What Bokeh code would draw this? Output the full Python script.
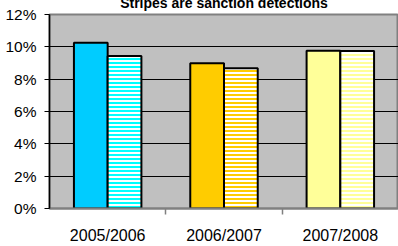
from bokeh.plotting import figure
from bokeh.models import (ColumnDataSource, FixedTicker, NumeralTickFormatter,
                          LinearAxis, Range1d, Title)
from bokeh.embed import file_html
from bokeh.resources import INLINE

categories = ["2005/2006", "2006/2007", "2007/2008"]
all_values = [0.1026, 0.0898, 0.0976]
sanction_values = [0.0943, 0.0867, 0.0975]
solid_colors = ["#00CCFF", "#FFCC00", "#FFFF99"]
stripe_colors = ["#00FFFF", "#FFCC00", "#FFFF99"]
y_ticks = [0, 0.02, 0.04, 0.06, 0.08, 0.10, 0.12]
title_text = "Stripes are sanction detections"

OFF = 0.145
BW = 0.29
centers = [i + 0.5 for i in range(len(categories))]
bounds = list(range(1, len(categories)))
src = ColumnDataSource(dict(xa=[c - OFF for c in centers], xs=[c + OFF for c in centers],
                            a=all_values, s=sanction_values,
                            c1=solid_colors, c2=stripe_colors))

FONT = "Liberation Sans"

p = figure(x_range=Range1d(0, len(categories)), y_range=Range1d(0, 0.12),
           width=398, height=258, output_backend="svg", toolbar_location=None,
           x_axis_location=None, y_axis_location=None,
           min_border_left=49, min_border_right=0, min_border_top=26, min_border_bottom=36,
           background_fill_color="#C0C0C0", border_fill_color="white",
           outline_line_color="#808080", outline_line_width=2,
           margin=(-12, 0, 0, 0))

p.add_layout(Title(text=title_text, align="center", standoff=7,
                   text_font=FONT, text_font_size="14px", text_font_style="bold",
                   text_color="black"), "above")

# y axis
yax = LinearAxis(ticker=FixedTicker(ticks=y_ticks), formatter=NumeralTickFormatter(format="0%"),
                 axis_line_color="black", axis_line_width=1.5,
                 major_tick_line_color="black", major_tick_out=5, major_tick_in=0,
                 minor_tick_line_color=None,
                 major_label_text_font=FONT, major_label_text_font_size="15.5px",
                 major_label_text_color="black", major_label_standoff=8)
p.add_layout(yax, "left")

cax = LinearAxis(ticker=FixedTicker(ticks=centers, minor_ticks=bounds),
                 major_label_overrides={c: lab for c, lab in zip(centers, categories)},
                 axis_line_color="#808080", axis_line_width=2,
                 major_tick_line_color=None, major_tick_out=0, major_tick_in=0,
                 minor_tick_line_color="#808080", minor_tick_out=6, minor_tick_in=0,
                 minor_tick_line_width=1.5,
                 major_label_text_font=FONT, major_label_text_font_size="16px",
                 major_label_text_color="black", major_label_standoff=12)
p.add_layout(cax, "below")

p.xgrid.grid_line_color = None
p.ygrid.ticker = FixedTicker(ticks=y_ticks)
p.ygrid.grid_line_color = "black"
p.ygrid.grid_line_width = 1

p.vbar(x="xa", top="a", width=BW, source=src,
       fill_color="c1", line_color="black", line_width=2)
p.vbar(x="xs", top="s", width=BW, source=src,
       fill_color="white", hatch_color="c2", hatch_pattern="horizontal_line",
       hatch_scale=4, hatch_weight=2, line_color="black", line_width=2)

open("out.html", "w").write(file_html(p, INLINE))
